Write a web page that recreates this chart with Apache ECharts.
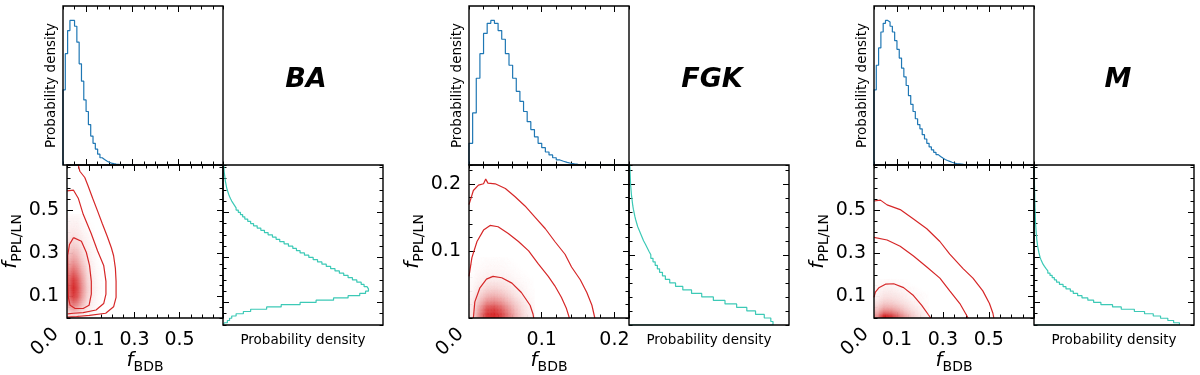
<!DOCTYPE html>
<html>
<head>
<meta charset="utf-8">
<script src="https://cdn.jsdelivr.net/npm/echarts@6/dist/echarts.min.js"></script>
<style>
html, body { margin: 0; background: #fff; }
#chart { width: 1200px; height: 375px; }
</style>
</head>
<body>
<div id="chart"></div>
<script>
// ---------- data ----------
// marginal of f_BDB (top histograms), relative density per bin
var baTopBin = 0.01;
var baTop = [0.52, 0.77, 0.93, 1.0, 1.0, 0.96, 0.85, 0.70, 0.58, 0.45, 0.37, 0.28, 0.20, 0.15, 0.11,
  0.075, 0.05, 0.038, 0.028, 0.019, 0.013, 0.009, 0.006, 0.004, 0.002, 0.001, 0.0005, 0, 0, 0];
var fgkTopBin = 0.005;
var fgkTop = [0.15, 0.36, 0.60, 0.77, 0.91, 0.98, 1.0, 0.98, 0.93, 0.87, 0.77, 0.69, 0.60, 0.51, 0.44,
  0.37, 0.30, 0.245, 0.195, 0.15, 0.12, 0.09, 0.07, 0.05, 0.035, 0.026, 0.018, 0.012, 0.008, 0.005,
  0.003, 0.002, 0.001, 0.001, 0, 0, 0, 0, 0, 0, 0, 0, 0];
var mTopBin = 0.01;
var mTop = [0.52, 0.69, 0.81, 0.92, 0.98, 1.0, 0.99, 0.96, 0.92, 0.86, 0.80, 0.74, 0.67, 0.61, 0.55,
  0.48, 0.42, 0.37, 0.32, 0.28, 0.25, 0.21, 0.18, 0.15, 0.125, 0.105, 0.088, 0.072, 0.059, 0.048,
  0.038, 0.031, 0.025, 0.019, 0.014, 0.010, 0.008, 0.006, 0.004, 0.003, 0.002, 0.001, 0.001,
  0, 0, 0, 0, 0, 0, 0, 0, 0, 0, 0, 0];

// marginal of f_PPL/LN (side histograms)
var baSideBin = 0.01;
var baSide = [0.01, 0.03, 0.045, 0.06, 0.09, 0.14, 0.19, 0.30, 0.40, 0.53, 0.64, 0.76, 0.86, 0.94, 0.98,
  1.0, 0.99, 0.97, 0.95, 0.92, 0.89, 0.86, 0.83, 0.80, 0.77, 0.74, 0.71, 0.68, 0.65, 0.62,
  0.59, 0.56, 0.53, 0.505, 0.48, 0.45, 0.42, 0.39, 0.365, 0.34, 0.31, 0.285, 0.26, 0.235, 0.21,
  0.19, 0.17, 0.15, 0.135, 0.12, 0.105, 0.09, 0.08, 0.07, 0.06, 0.052, 0.045, 0.039, 0.034, 0.029,
  0.025, 0.022, 0.019, 0.016, 0.014, 0.012, 0.01, 0.008, 0.007, 0.006, 0.005];
var fgkSideBin = 0.005;
var fgkSide = [0.99, 0.975, 0.93, 0.87, 0.81, 0.74, 0.66, 0.58, 0.50, 0.43, 0.37, 0.32, 0.28, 0.25, 0.23,
  0.21, 0.195, 0.18, 0.165, 0.15, 0.137, 0.125, 0.113, 0.10, 0.09, 0.08, 0.07, 0.06, 0.053, 0.046,
  0.04, 0.035, 0.03, 0.026, 0.023, 0.02, 0.017, 0.015, 0.013, 0.011, 0.01, 0.009, 0.008, 0.007, 0.006, 0.005];
var mSideBin = 0.01;
var mSide = [1.0, 0.96, 0.92, 0.87, 0.82, 0.76, 0.69, 0.60, 0.54, 0.46, 0.41, 0.37, 0.33, 0.30, 0.27,
  0.25, 0.22, 0.20, 0.175, 0.155, 0.14, 0.125, 0.11, 0.095, 0.083, 0.072, 0.062, 0.055, 0.048, 0.042,
  0.038, 0.034, 0.031, 0.028, 0.025, 0.023, 0.021, 0.019, 0.018, 0.016, 0.015, 0.014, 0.013, 0.012, 0.011,
  0.010, 0.010, 0.009, 0.009, 0.008, 0.008, 0.007, 0.007, 0.006, 0.006, 0.005, 0.005, 0.005, 0.004, 0.004,
  0.004, 0.003, 0.003, 0.003, 0.003, 0.002, 0.002, 0.002, 0.002, 0.002];

// 2D density per cell, rows bottom -> top, cols left -> right (relative to peak)
var baHeatCell = [0.02, 0.04];
var baHeat = [
  [0.15, 0.2, 0.15, 0.08, 0.04, 0.02, 0.01, 0],
  [0.45, 0.6, 0.5, 0.3, 0.15, 0.07, 0.03, 0.01],
  [0.7, 0.9, 0.75, 0.45, 0.22, 0.1, 0.04, 0.01],
  [0.75, 1.0, 0.8, 0.5, 0.25, 0.11, 0.05, 0.02],
  [0.7, 0.9, 0.72, 0.45, 0.22, 0.1, 0.04, 0.01],
  [0.55, 0.7, 0.55, 0.35, 0.18, 0.08, 0.03, 0.01],
  [0.4, 0.5, 0.4, 0.25, 0.13, 0.06, 0.02, 0],
  [0.28, 0.35, 0.28, 0.17, 0.09, 0.04, 0.02, 0],
  [0.18, 0.22, 0.18, 0.11, 0.06, 0.03, 0.01, 0],
  [0.11, 0.14, 0.11, 0.07, 0.04, 0.02, 0, 0],
  [0.07, 0.08, 0.07, 0.04, 0.02, 0.01, 0, 0],
  [0.04, 0.05, 0.04, 0.02, 0.01, 0, 0, 0]
];
var fgkHeatCell = [0.01, 0.01];
var fgkHeat = [
  [0.12, 0.55, 0.92, 1.0, 0.85, 0.6, 0.35, 0.18, 0.08],
  [0.1, 0.45, 0.78, 0.85, 0.7, 0.48, 0.28, 0.14, 0.06],
  [0.08, 0.3, 0.5, 0.55, 0.46, 0.32, 0.19, 0.1, 0.04],
  [0.05, 0.19, 0.31, 0.34, 0.29, 0.2, 0.12, 0.06, 0.02],
  [0.03, 0.11, 0.18, 0.2, 0.17, 0.12, 0.07, 0.04, 0.01],
  [0.02, 0.06, 0.1, 0.11, 0.1, 0.07, 0.04, 0.02, 0.01],
  [0.01, 0.04, 0.06, 0.06, 0.05, 0.04, 0.02, 0.01, 0],
  [0.01, 0.02, 0.03, 0.03, 0.03, 0.02, 0.01, 0, 0],
  [0, 0.01, 0.02, 0.02, 0.02, 0.01, 0, 0, 0]
];
var mHeatCell = [0.03, 0.02];
var mHeat = [
  [0.5, 1.0, 0.92, 0.68, 0.45, 0.26, 0.14, 0.07],
  [0.35, 0.6, 0.58, 0.45, 0.3, 0.18, 0.1, 0.05],
  [0.22, 0.38, 0.37, 0.3, 0.2, 0.12, 0.07, 0.03],
  [0.14, 0.24, 0.24, 0.19, 0.13, 0.08, 0.04, 0.02],
  [0.08, 0.16, 0.16, 0.13, 0.09, 0.05, 0.03, 0.01],
  [0.05, 0.11, 0.11, 0.09, 0.06, 0.03, 0.02, 0.01],
  [0.03, 0.08, 0.08, 0.06, 0.04, 0.02, 0.01, 0],
  [0.02, 0.05, 0.05, 0.04, 0.02, 0.01, 0, 0],
  [0.01, 0.03, 0.03, 0.02, 0.01, 0, 0, 0]
];

// contour lines [f_BDB, f_PPL/LN]
var baContours = [
  [[0.029, 0.373], [0.064, 0.356], [0.086, 0.304], [0.100, 0.244], [0.108, 0.170], [0.108, 0.111],
   [0.098, 0.059], [0.072, 0.044], [0.036, 0.044], [0.014, 0.059], [0.006, 0.096], [0.003, 0.170],
   [0.003, 0.289], [0.011, 0.341], [0.029, 0.373]],
  [[0.0, 0.59], [0.029, 0.593], [0.05, 0.556], [0.072, 0.481], [0.107, 0.393], [0.136, 0.311],
   [0.163, 0.244], [0.173, 0.170], [0.173, 0.111], [0.163, 0.067], [0.129, 0.037], [0.072, 0.025],
   [0.029, 0.022], [0.003, 0.019], [0.0, 0.019]],
  [[0.05, 0.71], [0.057, 0.681], [0.079, 0.652], [0.093, 0.615], [0.114, 0.556], [0.136, 0.496],
   [0.157, 0.437], [0.179, 0.378], [0.197, 0.326], [0.207, 0.289], [0.215, 0.230], [0.218, 0.170],
   [0.218, 0.096], [0.207, 0.052], [0.172, 0.022], [0.100, 0.012], [0.043, 0.007], [0.0, 0.004]]
];
var fgkContours = [
  [[0.006, 0.0], [0.008, 0.024], [0.015, 0.045], [0.024, 0.058], [0.033, 0.062], [0.045, 0.060],
   [0.059, 0.052], [0.072, 0.038], [0.084, 0.019], [0.088, 0.006], [0.089, 0.0]],
  [[0.0, 0.062], [0.004, 0.090], [0.011, 0.114], [0.020, 0.131], [0.029, 0.138], [0.040, 0.136],
   [0.054, 0.126], [0.068, 0.114], [0.082, 0.100], [0.095, 0.081], [0.109, 0.062], [0.118, 0.048],
   [0.127, 0.031], [0.134, 0.014], [0.138, 0.0]],
  [[0.0, 0.169], [0.006, 0.190], [0.013, 0.198], [0.020, 0.200], [0.023, 0.207], [0.026, 0.201],
   [0.036, 0.200], [0.050, 0.193], [0.063, 0.181], [0.077, 0.167], [0.091, 0.150], [0.105, 0.133],
   [0.118, 0.114], [0.132, 0.095], [0.141, 0.076], [0.153, 0.057], [0.162, 0.038], [0.169, 0.019],
   [0.173, 0.0]]
];
var mContours = [
  [[0.0, 0.096], [0.006, 0.12], [0.021, 0.140], [0.050, 0.157], [0.086, 0.159], [0.129, 0.141],
   [0.172, 0.104], [0.208, 0.059], [0.237, 0.015], [0.247, 0.0]],
  [[0.0, 0.374], [0.057, 0.362], [0.114, 0.333], [0.172, 0.288], [0.230, 0.237], [0.287, 0.185],
   [0.330, 0.126], [0.374, 0.067], [0.402, 0.015], [0.41, 0.0]],
  [[0.0, 0.543], [0.028, 0.547], [0.057, 0.525], [0.114, 0.503], [0.172, 0.459], [0.230, 0.414],
   [0.287, 0.355], [0.330, 0.296], [0.388, 0.229], [0.431, 0.185], [0.474, 0.126], [0.503, 0.067],
   [0.518, 0.022], [0.522, 0.0]]
];

// axis ranges and ticks
var baXRange = [0, 0.693], baYRange = [0, 0.71];
var fgkXRange = [0, 0.22], fgkYRange = [0, 0.228];
var mXRange = [0, 0.697], mYRange = [0, 0.71];
var baTicks = [0.1, 0.3, 0.5], fgkTicks = [0.1, 0.2], mTicks = [0.1, 0.3, 0.5];
var baMinor = 0.05, fgkMinor = 0.02, mMinor = 0.05;
var titles = ['BA', 'FGK', 'M'];

// ---------- layout ----------
var FONT = 'DejaVu Sans';
var BLUE = '#1f77b4', TEAL = '#3cc9b6', RED = '#d62728';
var RED_RGB = [214, 39, 40];
var S = 160, TOP0 = 6, TOP1 = 165;
var SUB = 5;   // shading subdivisions per heat cell

var panels = [
  {left: 63, titleX: 306, zeroX: 45, xr: baXRange, yr: baYRange, ticks: baTicks, minor: baMinor,
   top: baTop, topBin: baTopBin, side: baSide, sideBin: baSideBin,
   heat: baHeat, cell: baHeatCell, contours: baContours},
  {left: 469, titleX: 712, zeroX: 450, xr: fgkXRange, yr: fgkYRange, ticks: fgkTicks, minor: fgkMinor,
   top: fgkTop, topBin: fgkTopBin, side: fgkSide, sideBin: fgkSideBin,
   heat: fgkHeat, cell: fgkHeatCell, contours: fgkContours},
  {left: 874, titleX: 1118, zeroX: 855, xr: mXRange, yr: mYRange, ticks: mTicks, minor: mMinor,
   top: mTop, topBin: mTopBin, side: mSide, sideBin: mSideBin,
   heat: mHeat, cell: mHeatCell, contours: mContours}
];

var option = {
  animation: false,
  backgroundColor: '#fff',
  grid: [], xAxis: [], yAxis: [], series: [], graphic: []
};

function addGrid(left, top, w, h) {
  option.grid.push({left: left, top: top, width: w, height: h, show: true,
    borderColor: '#000', borderWidth: 1.4, backgroundColor: 'transparent', z: 5});
  return option.grid.length - 1;
}
function bareAxis(gi, pos, range) {
  return {type: 'value', gridIndex: gi, position: pos, min: range[0], max: range[1],
    axisLine: {show: false, onZero: false}, splitLine: {show: false},
    axisTick: {show: false}, axisLabel: {show: false}};
}
function addAxis(dim, ax) {
  var arr = dim === 'x' ? option.xAxis : option.yAxis;
  arr.push(ax);
  return arr.length - 1;
}
// major ticks (optionally labelled) + minor ticks on one side, both pointing inwards
function tickSide(dim, gi, pos, range, majors, step, labels) {
  var major = bareAxis(gi, pos, range);
  major.axisTick = {show: true, inside: true, length: 6, customValues: majors,
    lineStyle: {color: '#000', width: 1}};
  major.axisLabel = {show: labels, customValues: majors, margin: dim === 'x' ? 13 : 8,
    fontFamily: FONT, fontSize: 19, color: '#000',
    formatter: function (v) { return v.toFixed(1); }};
  var idx = addAxis(dim, major);
  var minor = bareAxis(gi, pos, range);
  minor.interval = step;
  minor.axisTick = {show: true, inside: true, length: 3.5, lineStyle: {color: '#000', width: 1}};
  addAxis(dim, minor);
  return idx;
}
function densityAxis(dim, gi, pos, nameGap) {
  var ax = bareAxis(gi, pos, [0, 1.1]);
  ax.name = 'Probability density';
  ax.nameLocation = 'middle';
  ax.nameGap = nameGap;
  ax.nameTextStyle = {fontFamily: FONT, fontSize: 13.5, color: '#000'};
  return addAxis(dim, ax);
}
// histogram outline as step points
function stepPoints(vals, bin, sideways) {
  var pts = [[0, 0]];
  vals.forEach(function (v, i) {
    pts.push([i * bin, v]);
    pts.push([(i + 1) * bin, v]);
  });
  pts.push([vals.length * bin, 0]);
  if (sideways) pts = pts.map(function (p) { return [p[1], p[0]]; });
  return pts;
}
function heatCells(rows, cell) {
  var out = [];
  rows.forEach(function (row, r) {
    row.forEach(function (v, c) {
      out.push([c * cell[0], r * cell[1], (c + 1) * cell[0], (r + 1) * cell[1], v, c, r]);
    });
  });
  return out;
}
// value of the grid at a position given in cell units (cell centres at i + 0.5)
function sampleHeat(rows, fx, fy) {
  var nr = rows.length, nc = rows[0].length;
  var gx = Math.max(fx - 0.5, 0), gy = Math.max(fy - 0.5, 0);
  var c0 = Math.floor(gx), r0 = Math.floor(gy), tx = gx - c0, ty = gy - r0;
  function at(r, c) { return (r >= nr || c >= nc) ? 0 : rows[r][c]; }
  return (at(r0, c0) * (1 - tx) + at(r0, c0 + 1) * tx) * (1 - ty) +
         (at(r0 + 1, c0) * (1 - tx) + at(r0 + 1, c0 + 1) * tx) * ty;
}
function heatColor(v) {
  v = Math.max(0, Math.min(1, v));
  return 'rgb(' + RED_RGB.map(function (c) { return Math.round(255 + (c - 255) * v); }).join(',') + ')';
}
function makeCellRenderer(rows) {
  return function (params, api) {
    var x0 = api.value(0), y0 = api.value(1), x1 = api.value(2), y1 = api.value(3);
    var c = api.value(5), r = api.value(6);
    var kids = [];
    for (var i = 0; i < SUB; i++) {
      for (var j = 0; j < SUB; j++) {
        var v = sampleHeat(rows, c + (i + 0.5) / SUB, r + (j + 0.5) / SUB);
        if (v <= 0.003) continue;
        var a = api.coord([x0 + (x1 - x0) * i / SUB, y0 + (y1 - y0) * j / SUB]);
        var b = api.coord([x0 + (x1 - x0) * (i + 1) / SUB, y0 + (y1 - y0) * (j + 1) / SUB]);
        var col = heatColor(v);
        kids.push({type: 'rect', shape: {x: a[0], y: b[1], width: b[0] - a[0], height: a[1] - b[1]},
          style: {fill: col, stroke: col, lineWidth: 0.5}});
      }
    }
    return {type: 'group', children: kids};
  };
}
function lineSeries(data, xi, yi, color) {
  return {type: 'line', data: data, xAxisIndex: xi, yAxisIndex: yi, symbol: 'none',
    silent: true, clip: true, lineStyle: {color: color, width: 1.2}};
}

panels.forEach(function (p, k) {
  var gTop = addGrid(p.left, TOP0, S, TOP1 - TOP0);
  var g2d = addGrid(p.left, TOP1, S, S);
  var gSide = addGrid(p.left + S, TOP1, S, S);

  // top histogram
  var tx = tickSide('x', gTop, 'bottom', p.xr, p.ticks, p.minor, false);
  tickSide('x', gTop, 'top', p.xr, p.ticks, p.minor, false);
  var ty = densityAxis('y', gTop, 'left', 5);
  option.series.push(lineSeries(stepPoints(p.top, p.topBin, false), tx, ty, BLUE));

  // 2D panel
  var x2 = tickSide('x', g2d, 'bottom', p.xr, p.ticks, p.minor, true);
  tickSide('x', g2d, 'top', p.xr, p.ticks, p.minor, false);
  var y2 = tickSide('y', g2d, 'left', p.yr, p.ticks, p.minor, true);
  tickSide('y', g2d, 'right', p.yr, p.ticks, p.minor, false);
  var nameStyle = {rich: {
    f: {fontFamily: FONT, fontStyle: 'italic', fontSize: 20, lineHeight: 26, color: '#000'},
    s: {fontFamily: FONT, fontSize: 14, lineHeight: 12, verticalAlign: 'bottom', color: '#000'}}};
  Object.assign(option.xAxis[x2], {name: '{f|f}{s|BDB}', nameLocation: 'middle', nameGap: 30,
    nameTextStyle: nameStyle});
  Object.assign(option.yAxis[y2], {name: '{f|f}{s|PPL/LN}', nameLocation: 'middle', nameGap: 43,
    nameTextStyle: nameStyle});

  option.series.push({type: 'custom', renderItem: makeCellRenderer(p.heat), data: heatCells(p.heat, p.cell),
    xAxisIndex: x2, yAxisIndex: y2, encode: {x: [0, 2], y: [1, 3]}, clip: true, silent: true});
  p.contours.forEach(function (c) {
    option.series.push(lineSeries(c, x2, y2, RED));
  });

  // side histogram
  var sx = densityAxis('x', gSide, 'bottom', 8);
  var sy = tickSide('y', gSide, 'left', p.yr, p.ticks, p.minor, false);
  tickSide('y', gSide, 'right', p.yr, p.ticks, p.minor, false);
  option.series.push(lineSeries(stepPoints(p.side, p.sideBin, true), sx, sy, TEAL));

  // title and the rotated 0.0 label
  option.graphic.push({type: 'text', x: p.titleX, y: 80, silent: true,
    style: {text: titles[k], font: 'italic bold 27px "DejaVu Sans"', fill: '#000',
      align: 'center', verticalAlign: 'middle', textAlign: 'center', textVerticalAlign: 'middle'}});
  option.graphic.push({type: 'text', x: p.zeroX, y: 342, rotation: Math.PI / 4, silent: true,
    style: {text: '0.0', font: '19px "DejaVu Sans"', fill: '#000',
      align: 'center', verticalAlign: 'middle', textAlign: 'center', textVerticalAlign: 'middle'}});
});

var chart = echarts.init(document.getElementById('chart'));
chart.setOption(option);
</script>
</body>
</html>
